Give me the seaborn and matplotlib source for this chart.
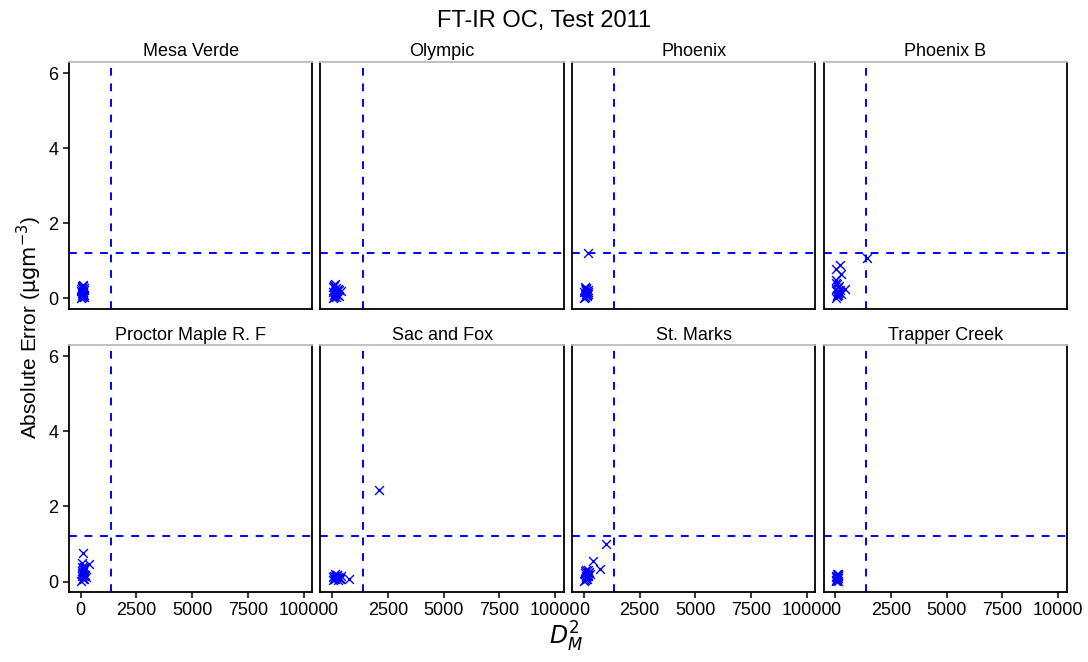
import matplotlib
matplotlib.use("Agg")
import matplotlib.pyplot as plt
import seaborn as sns
import pandas as pd

sites = ["Mesa Verde", "Olympic", "Phoenix", "Phoenix B",
         "Proctor Maple R. F", "Sac and Fox", "St. Marks", "Trapper Creek"]

mesa_x = [20, 40, 60, 80, 100, 120, 150, 30, 70, 110, 90, 50, 130, 160, 10, 60, 140, 100, 40, 80]
mesa_y = [0.02, 0.05, 0.08, 0.12, 0.15, 0.18, 0.22, 0.25, 0.28, 0.32, 0.35, 0.30, 0.10, 0.04, 0.20, 0.14, 0.27, 0.06, 0.33, 0.17]

oly_x = [30, 60, 90, 120, 150, 200, 250, 300, 380, 40, 80, 110, 170, 230, 280, 50, 100, 140, 60, 180]
oly_y = [0.02, 0.05, 0.09, 0.12, 0.16, 0.20, 0.24, 0.22, 0.20, 0.30, 0.35, 0.38, 0.28, 0.10, 0.06, 0.18, 0.26, 0.14, 0.32, 0.04]

phx_x = [20, 50, 80, 110, 140, 170, 200, 40, 90, 130, 60, 160, 30, 100, 190, 70, 120, 200]
phx_y = [0.02, 0.05, 0.08, 0.12, 0.15, 0.18, 0.22, 0.25, 0.28, 0.10, 0.30, 0.06, 0.16, 0.20, 0.12, 0.04, 0.24, 1.20]

phb_x = [1400, 190, 20, 240, 40, 420, 30, 60, 90, 120, 150, 200, 50, 100, 170, 80, 140, 20, 250, 110]
phb_y = [1.08, 0.90, 0.78, 0.65, 0.50, 0.25, 0.02, 0.06, 0.10, 0.14, 0.18, 0.22, 0.26, 0.30, 0.34, 0.38, 0.08, 0.42, 0.12, 0.20]

pmr_x = [120, 390, 60, 150, 200, 30, 80, 110, 140, 170, 50, 100, 130, 90, 160, 40, 70, 250, 120, 60]
pmr_y = [0.75, 0.48, 0.50, 0.40, 0.35, 0.02, 0.06, 0.10, 0.14, 0.18, 0.22, 0.26, 0.30, 0.34, 0.08, 0.16, 0.28, 0.12, 0.20, 0.38]

sac_x = [2100, 750, 30, 80, 130, 180, 230, 280, 330, 380, 60, 110, 160, 210, 260, 310, 40, 140, 240, 340]
sac_y = [2.45, 0.08, 0.05, 0.08, 0.12, 0.15, 0.18, 0.10, 0.06, 0.14, 0.16, 0.07, 0.11, 0.17, 0.13, 0.09, 0.12, 0.19, 0.05, 0.10]

stm_x = [990, 430, 735, 30, 60, 90, 120, 150, 180, 210, 250, 300, 40, 80, 110, 140, 170, 200, 50, 100]
stm_y = [0.99, 0.54, 0.33, 0.02, 0.05, 0.08, 0.12, 0.15, 0.18, 0.22, 0.25, 0.20, 0.28, 0.32, 0.10, 0.06, 0.16, 0.30, 0.24, 0.14]

trc_x = [20, 40, 60, 80, 100, 120, 140, 30, 70, 110, 50, 90, 130, 60, 100]
trc_y = [0.02, 0.05, 0.08, 0.11, 0.14, 0.17, 0.20, 0.12, 0.03, 0.18, 0.15, 0.06, 0.09, 0.19, 0.01]

xs = [mesa_x, oly_x, phx_x, phb_x, pmr_x, sac_x, stm_x, trc_x]
ys = [mesa_y, oly_y, phx_y, phb_y, pmr_y, sac_y, stm_y, trc_y]

x_cut = 1370
y_cut = 1.2
x_ticks = [0, 2500, 5000, 7500, 10000]
y_ticks = [0, 2, 4, 6]

rows = []
for s, xv, yv in zip(sites, xs, ys):
    for a, b in zip(xv, yv):
        rows.append({"site": s, "D2": a, "err": b})
df = pd.DataFrame(rows)

sns.set_theme(style="white")
plt.rcParams["font.family"] = ["Liberation Sans", "DejaVu Sans"]
plt.rcParams["text.color"] = "black"
plt.rcParams["axes.labelcolor"] = "black"

g = sns.FacetGrid(df, col="site", col_wrap=4, col_order=sites,
                  sharex=True, sharey=True, height=2.5, aspect=1.0)
g.map_dataframe(sns.scatterplot, x="D2", y="err", marker="x", color="#0000ff",
                s=40, linewidth=1.0)
g.figure.set_size_inches(10.88, 6.62)
g.figure.subplots_adjust(left=0.0634, right=0.9807, top=0.9063, bottom=0.1057,
                         wspace=0.033, hspace=0.146)

for ax, s in zip(g.axes.flat, sites):
    ax.axvline(x_cut, color="#0000ff", linestyle=(0, (4, 4)), linewidth=1.4)
    ax.axhline(y_cut, color="#0000ff", linestyle=(0, (4, 4)), linewidth=1.4)
    ax.set_xlim(-530, 10400)
    ax.set_ylim(-0.28, 6.3)
    ax.set_xticks(x_ticks)
    ax.set_yticks(y_ticks)
    ax.set_title(s, fontsize=13, pad=4, color="black")
    ax.set_xlabel("")
    ax.set_ylabel("")
    for side in ["left", "bottom", "right"]:
        ax.spines[side].set_visible(True)
        ax.spines[side].set_color("black")
        ax.spines[side].set_linewidth(1.3)
    ax.spines["top"].set_visible(True)
    ax.spines["top"].set_color("#bbbbbb")
    ax.spines["top"].set_linewidth(1.3)
    ax.tick_params(axis="both", which="both", direction="out", length=4, width=1.1,
                   color="black", labelsize=13, labelcolor="black",
                   bottom=True, left=True)

for i, ax in enumerate(g.axes.flat):
    if i % 4 != 0:
        ax.tick_params(labelleft=False, left=False)
    if i < 4:
        ax.tick_params(labelbottom=False, bottom=False)

g.figure.suptitle("FT-IR OC, Test 2011", fontsize=17, y=0.985, color="black")
g.figure.text(0.52, 0.012, r"$D_M^2$", ha="center", va="bottom", fontsize=17)
g.figure.text(0.014, 0.505, r"Absolute Error ($\mathrm{\mu gm^{-3}}$)", rotation=90,
              ha="left", va="center", fontsize=15)

g.figure.savefig("out.png", dpi=100)
